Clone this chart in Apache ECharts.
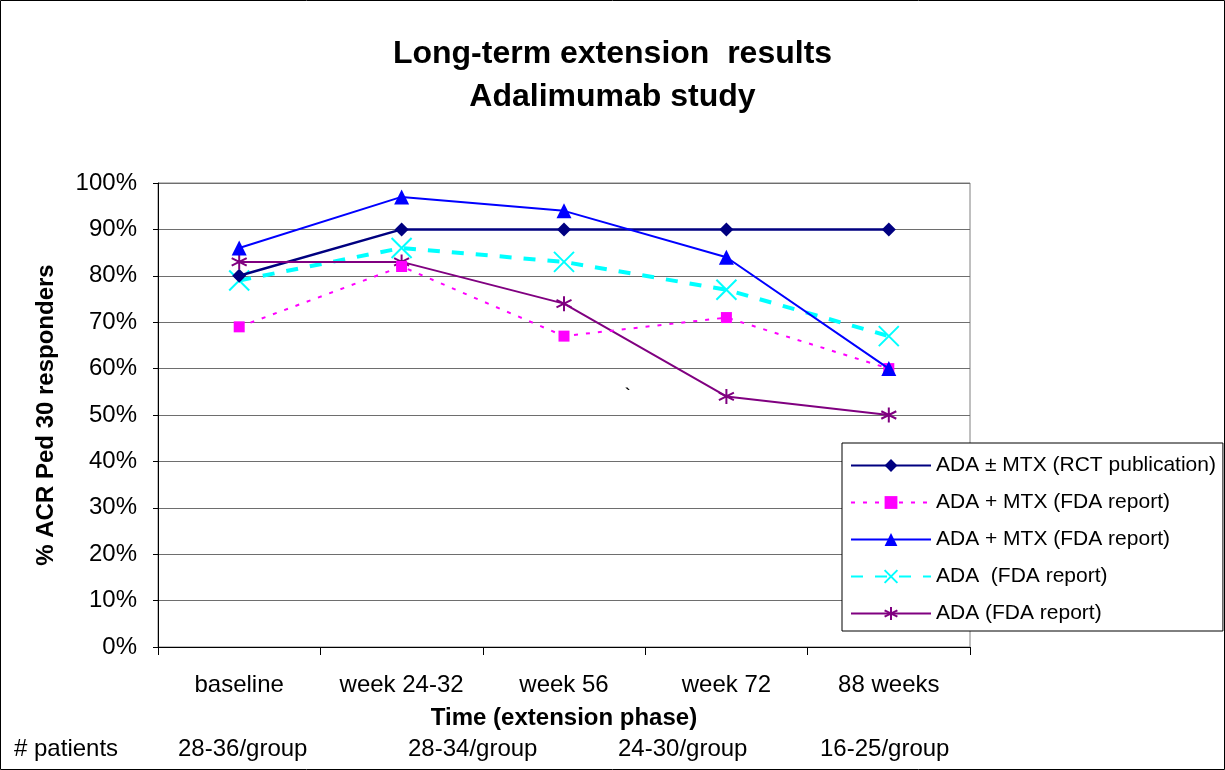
<!DOCTYPE html>
<html>
<head>
<meta charset="utf-8">
<title>Long-term extension results</title>
<script src="https://cdn.jsdelivr.net/npm/echarts@6/dist/echarts.min.js"></script>
<style>
  html, body { margin: 0; padding: 0; background: #fff; }
  #chart { width: 1225px; height: 770px; }
</style>
</head>
<body>
<div id="chart"></div>
<script>
// categories on the time axis
const timePoints = ['baseline', 'week 24-32', 'week 56', 'week 72', '88 weeks']
// patient counts printed under the axis
const patientLabels = ['28-36/group', '28-34/group', '24-30/group', '16-25/group']

// % ACR Ped 30 responders
const adaRct = [80, 90, 90, 90, 90]
const adaMtxFdaPink = [69, 82, 67, 71, 60]
const adaMtxFdaBlue = [86, 97, 94, 84, 60]
const adaFdaCyan = [79, 86, 83, 77, 67]
const adaFdaPurple = [83, 83, 74, 54, 50]

const font = 'Liberation Sans, Arial, sans-serif'

// open marker shapes (cross and asterisk) drawn as stroked paths
const crossPath = 'path://M0,0 L10,10 M10,0 L0,10'
const starPath = 'path://M5,0 L5,10 M0.7,2.5 L9.3,7.5 M0.7,7.5 L9.3,2.5'

const chart = echarts.init(document.getElementById('chart'))

chart.setOption({
  animation: false,
  backgroundColor: '#fff',
  textStyle: { fontFamily: font },
  title: {
    text: 'Long-term extension  results\nAdalimumab study',
    left: 'center',
    top: 28,
    textStyle: { fontSize: 32, fontWeight: 'bold', color: '#000', lineHeight: 43, fontFamily: font }
  },
  grid: {
    left: 158,
    right: 255,
    top: 183,
    bottom: 123,
    show: true,
    borderColor: '#808080',
    borderWidth: 1
  },
  legend: {
    orient: 'vertical',
    left: 842,
    top: 443,
    padding: [12, 7, 7, 8],
    itemWidth: 80,
    itemHeight: 16,
    itemGap: 16,
    backgroundColor: '#fff',
    borderColor: '#000',
    borderWidth: 1,
    textStyle: { fontSize: 21, color: '#000', fontFamily: font }
  },
  xAxis: {
    type: 'category',
    data: timePoints,
    name: 'Time (extension phase)',
    nameLocation: 'middle',
    nameGap: 59,
    nameTextStyle: { fontSize: 24, fontWeight: 'bold', color: '#000' },
    axisLine: { lineStyle: { color: '#000', width: 1 } },
    axisTick: { show: true, length: 8, lineStyle: { color: '#000' } },
    axisLabel: { fontSize: 24, color: '#000', margin: 26 }
  },
  yAxis: {
    type: 'value',
    min: 0,
    max: 100,
    interval: 10,
    name: '% ACR Ped 30 responders',
    nameLocation: 'middle',
    nameGap: 100,
    nameTextStyle: { fontSize: 24, fontWeight: 'bold', color: '#000' },
    axisLine: { show: true, lineStyle: { color: '#000', width: 1 } },
    axisTick: { show: true, length: 5, lineStyle: { color: '#000' } },
    axisLabel: { fontSize: 24, color: '#000', margin: 21, formatter: '{value}%' },
    splitLine: { show: true, lineStyle: { color: '#6e6e6e', width: 1 } }
  },
  graphic: [
    {
      type: 'rect',
      shape: { x: 0.5, y: 0.5, width: 1224, height: 769 },
      style: { fill: 'none', stroke: '#000', lineWidth: 1 },
      silent: true
    },
    {
      type: 'text',
      left: 14,
      top: 737,
      style: { text: '# patients', fill: '#000', font: '24px ' + font }
    },
    ...patientLabels.map((t, i) => ({
      type: 'text',
      left: [178, 408, 618, 820][i],
      top: 737,
      style: { text: t, fill: '#000', font: '24px ' + font }
    })),
    {
      type: 'text',
      left: 625,
      top: 388,
      style: { text: '`', fill: '#000', font: 'bold 16px ' + font }
    }
  ],
  series: [
    {
      name: 'ADA ± MTX (RCT publication)',
      type: 'line',
      data: adaRct,
      symbol: 'diamond',
      symbolSize: 14,
      lineStyle: { color: '#000080', width: 2.5 },
      itemStyle: { color: '#000080' },
      z: 3
    },
    {
      name: 'ADA + MTX (FDA report)',
      type: 'line',
      data: adaMtxFdaPink,
      symbol: 'rect',
      symbolSize: 11,
      lineStyle: { color: '#ff00ff', width: 2, type: [4, 8] },
      itemStyle: { color: '#ff00ff' },
      z: 4
    },
    {
      name: 'ADA + MTX (FDA report) ',
      type: 'line',
      data: adaMtxFdaBlue,
      symbol: 'triangle',
      symbolSize: 15,
      lineStyle: { color: '#0000ff', width: 2 },
      itemStyle: { color: '#0000ff' },
      z: 5
    },
    {
      name: 'ADA  (FDA report)',
      type: 'line',
      data: adaFdaCyan,
      symbol: crossPath,
      symbolSize: 20,
      lineStyle: { color: '#00ffff', width: 4, type: [12, 12] },
      itemStyle: { color: 'none', borderColor: '#00ffff', borderWidth: 2 },
      z: 2
    },
    {
      name: 'ADA (FDA report)',
      type: 'line',
      data: adaFdaPurple,
      symbol: starPath,
      symbolSize: 15,
      lineStyle: { color: '#800080', width: 2 },
      itemStyle: { color: 'none', borderColor: '#800080', borderWidth: 2 },
      z: 3
    }
  ]
})
</script>
</body>
</html>
